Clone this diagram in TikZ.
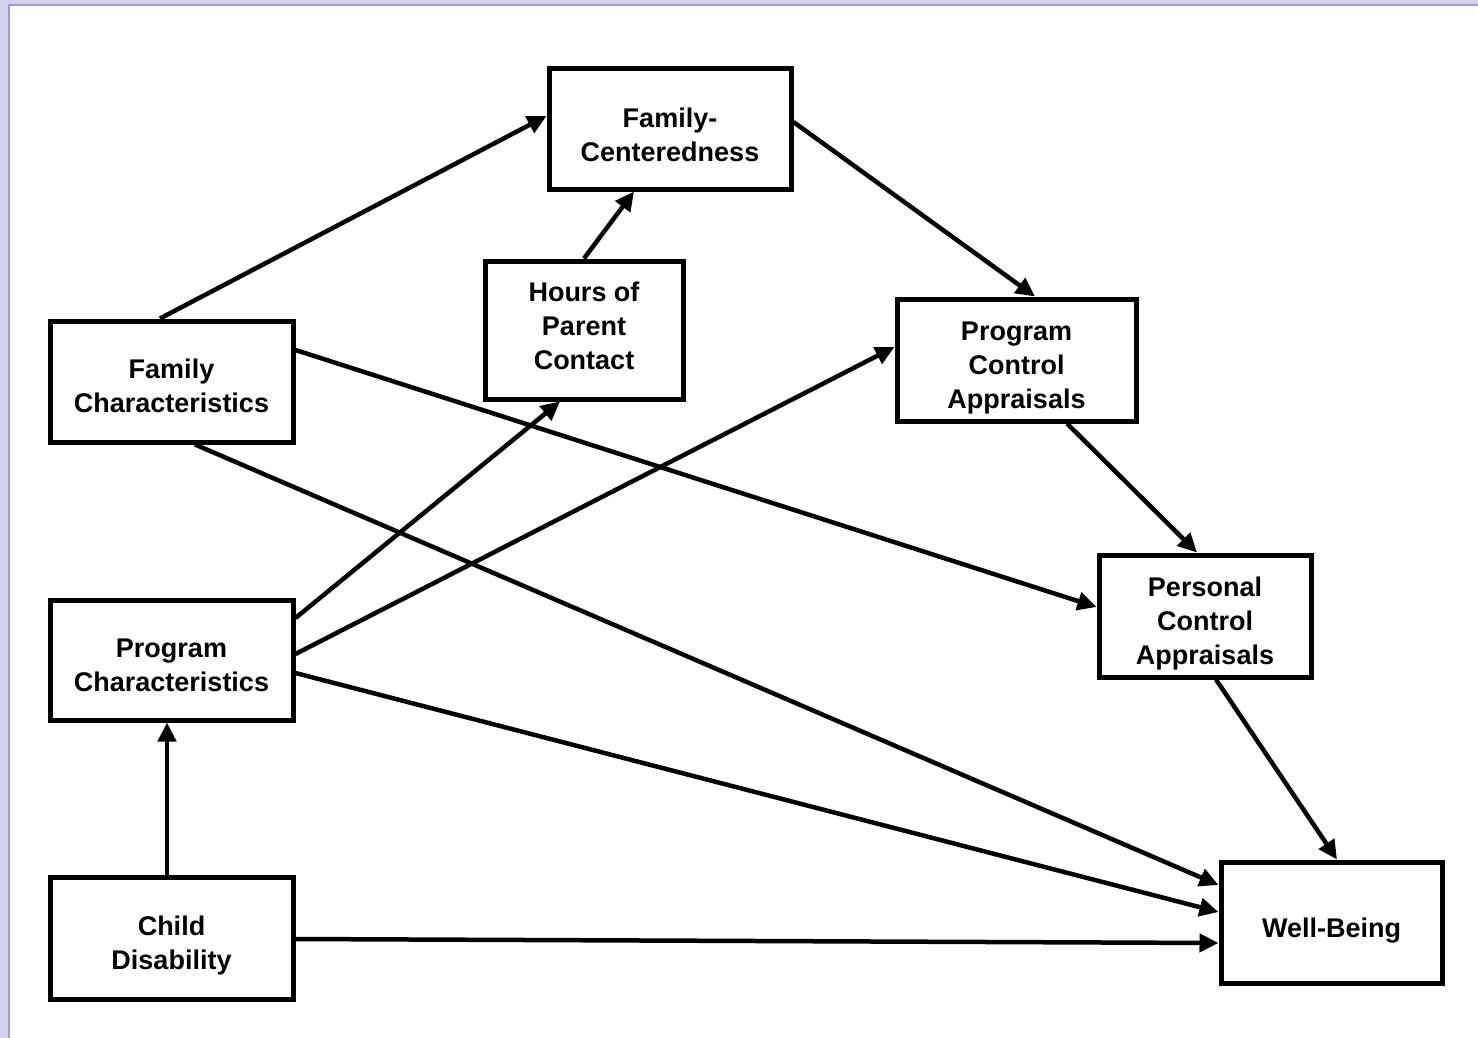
\documentclass[tikz,border=0pt]{standalone}
\usepackage{fontspec}
\setmainfont{Liberation Sans}
\usetikzlibrary{arrows.meta}
\definecolor{lavlight}{HTML}{D3D3F0}
\definecolor{lavdark}{HTML}{9C9CE0}
\newcommand{\boxtext}[2]{\raisebox{#1}[\height][\depth]{\begin{tabular}{@{}c@{}}#2\end{tabular}}}
\tikzset{
  box/.style={draw=black, line width=5pt, fill=white,
    font=\bfseries\fontsize{27}{34}\selectfont, inner sep=0pt},
  link/.style={line width=4.5pt, -{Triangle[length=19pt,width=18pt]}}
}
\begin{document}
\begin{tikzpicture}[x=1pt,y=-1pt]
\useasboundingbox (0,0) rectangle (1478,1038);
\fill[white] (0,0) rectangle (1478,1038);
\fill[lavlight] (0,0) rectangle (1478,4);
\fill[lavlight] (0,0) rectangle (8,1038);
\fill[lavdark] (8,4) rectangle (1478,6);
\fill[lavdark] (8,4) rectangle (10,1038);

\node[box, minimum width=242pt, minimum height=120pt] (famcent) at (670,129) {\boxtext{-9pt}{Family-\\Centeredness}};
\node[box, minimum width=198pt, minimum height=138pt] (hours) at (584,330) {\boxtext{1pt}{Hours of\\Parent\\Contact}};
\node[box, minimum width=243pt, minimum height=121pt] (famchar) at (171.5,381.5) {\boxtext{-7pt}{Family\\Characteristics}};
\node[box, minimum width=239pt, minimum height=122pt] (progctrl) at (1016.5,360) {\boxtext{-8pt}{Program\\Control\\Appraisals}};
\node[box, minimum width=212pt, minimum height=122pt] (persctrl) at (1205,616) {\boxtext{-8pt}{Personal\\Control\\Appraisals}};
\node[box, minimum width=243pt, minimum height=120pt] (progchar) at (171.5,660) {\boxtext{-8pt}{Program\\Characteristics}};
\node[box, minimum width=243pt, minimum height=122pt] (child) at (171.5,938) {\boxtext{-8pt}{Child\\Disability}};
\node[box, minimum width=221pt, minimum height=121pt] (well) at (1331.5,922.5) {\boxtext{-8pt}{Well-Being}};

\draw[link] ([xshift=-11.5pt]famchar.north) -- ([yshift=13pt]famcent.west);
\draw[link] (hours.north) -- ([xshift=-36pt]famcent.south);
\draw[link] ([yshift=7pt]famcent.east) -- ([xshift=18.5pt]progctrl.north);
\draw[link] ([yshift=31.5pt]famchar.east) -- ([yshift=9pt]persctrl.west);
\draw[link] ([xshift=23.5pt]famchar.south) -- ([yshift=37.5pt]well.west);
\draw[link] ([yshift=42pt]progchar.east) -- ([xshift=-24pt]hours.south);
\draw[link] ([yshift=6pt]progchar.east) -- ([yshift=13pt]progctrl.west);
\draw[link] ([yshift=-13pt]progchar.east) -- ([yshift=10.5pt]well.west);
\draw[link] ([xshift=-4.5pt]child.north) -- ([xshift=-4.5pt]progchar.south);
\draw[link] ([yshift=-1pt]child.east) -- ([yshift=-20.5pt]well.west);
\draw[link] ([xshift=50.5pt]progctrl.south) -- ([xshift=-8pt]persctrl.north);
\draw[link] ([xshift=11pt]persctrl.south) -- ([xshift=5.5pt]well.north);
\end{tikzpicture}
\end{document}
